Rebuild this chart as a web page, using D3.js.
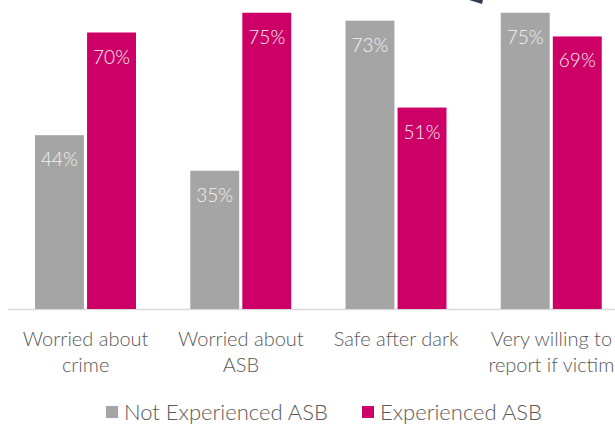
<!DOCTYPE html>
<html><head><meta charset="utf-8">
<script src="https://cdn.jsdelivr.net/npm/d3@7"></script>
<style>body{margin:0;background:#fff}svg{display:block}text{font-family:Lato,"Open Sans",sans-serif;font-weight:300}</style>
</head><body><svg id="c" width="615" height="424"></svg>
<script>
const categories = [["Worried about","crime"],["Worried about","ASB"],["Safe after dark"],["Very willing to","report if victim"]];
const seriesNames = ["Not Experienced ASB","Experienced ASB"];
const notExperienced = [0.44,0.35,0.73,0.75];
const experienced = [0.70,0.75,0.51,0.69];
const colors = ["#a5a5a5","#cc0066"];

const svg = d3.select("#c");
const keys = categories.map((c,i)=>i);
const x0 = d3.scaleBand().domain(keys).range([8, 629]).padding(0);
const x1 = d3.scaleBand().domain([0,1]).range([27, 128]).paddingInner(0.06);
const y = d3.scaleLinear().domain([0,0.8]).range([309, 309-316]);
const data = keys.map(i=>[notExperienced[i], experienced[i]]);
const fmt = d3.format(".0%");

// axis line
svg.append("line").attr("x1",8).attr("x2",615).attr("y1",309.5).attr("y2",309.5)
  .attr("stroke","#d9d9d9").attr("stroke-width",1.5);

const g = svg.selectAll("g.grp").data(data).join("g").attr("class","grp")
  .attr("transform",(d,i)=>`translate(${x0(i)},0)`);
g.selectAll("rect").data(d=>d).join("rect")
  .attr("x",(d,j)=>x1(j)).attr("width",x1.bandwidth())
  .attr("y",d=>y(d)).attr("height",d=>y(0)-y(d))
  .attr("fill",(d,j)=>colors[j]);
g.selectAll("text.val").data(d=>d).join("text").attr("class","val")
  .attr("x",(d,j)=>x1(j)+x1.bandwidth()/2).attr("y",d=>y(d)+31)
  .attr("text-anchor","middle").attr("font-size",19).attr("fill","#f2f2f2")
  .text(d=>fmt(d));

// category labels
const cl = svg.selectAll("text.cat").data(categories).join("text").attr("class","cat")
  .attr("x",(d,i)=>x0(i)+x0.bandwidth()/2).attr("y",346)
  .attr("text-anchor","middle").attr("font-size",20).attr("fill","#595959");
cl.selectAll("tspan").data(d=>d).join("tspan")
  .attr("x",function(){return d3.select(this.parentNode).attr("x");})
  .attr("dy",(d,k)=>k===0?0:25.5).text(d=>d);

// legend
const lg = svg.append("g");
const legX = [106, 362];
seriesNames.forEach((s,j)=>{
  lg.append("rect").attr("x",legX[j]).attr("y",406).attr("width",12).attr("height",12).attr("fill",colors[j]);
  lg.append("text").attr("x",legX[j]+18).attr("y",420).attr("font-size",22).attr("fill","#595959").text(s);
});

// fragment of an arrow at the top (cropped decoration)
svg.append("path").attr("d","M469,0 L483,0 L482,4 Z").attr("fill","#333f50");
</script></body></html>
